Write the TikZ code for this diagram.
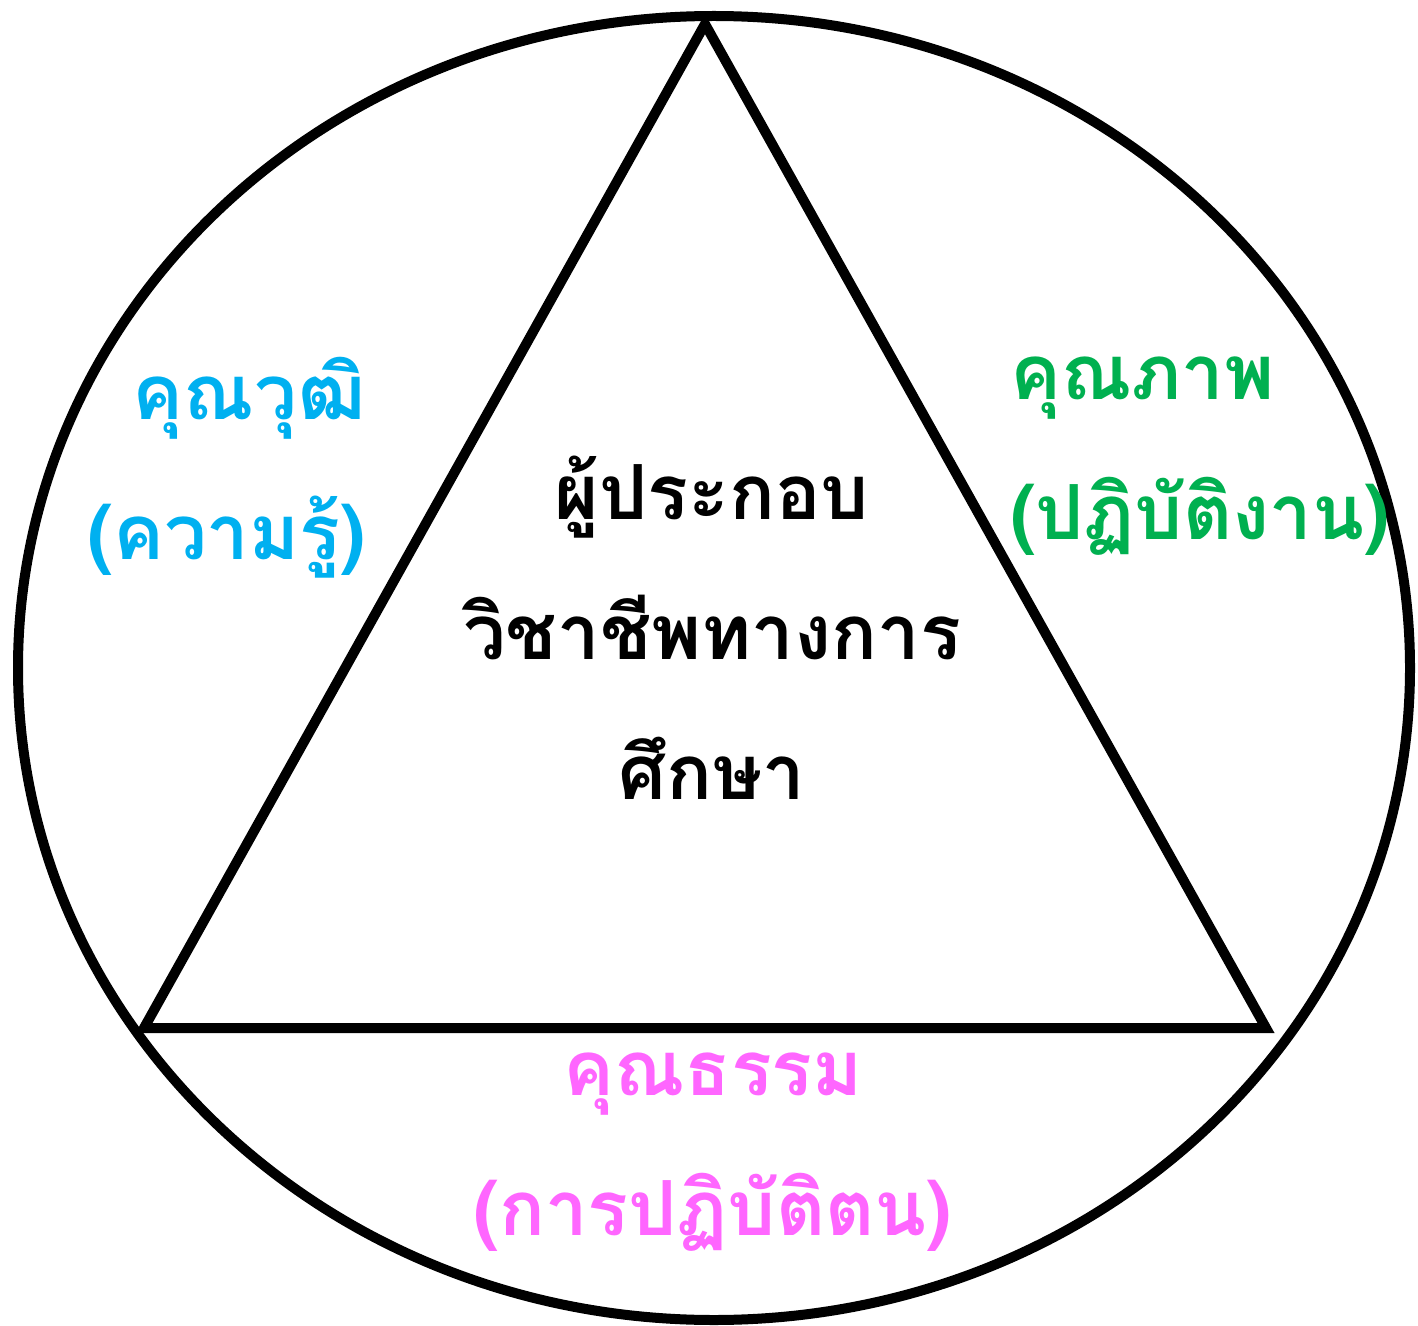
\documentclass[tikz,border=0pt]{standalone}
\usepackage{fontspec}
\newfontfamily\thaifont[Script=Thai]{Loma}
\usepackage{tikz}
\usetikzlibrary{positioning}

\begin{document}
\begin{tikzpicture}[
  x=0.5pt, y=-0.5pt,
  font=\thaifont\bfseries\fontsize{38}{70}\selectfont,
  outline/.style={draw=black, line width=5pt},
  label/.style={inner sep=0pt, align=center}
]
\definecolor{tcyan}{HTML}{00B0F0}
\definecolor{tgreen}{HTML}{00B050}
\definecolor{tpink}{HTML}{FF66FF}

\useasboundingbox (0,0) rectangle (1418,1326);

\draw[outline] (714,668) ellipse [x radius=696, y radius=652];

\coordinate (top) at (705,24);
\coordinate (left) at (144,1028);
\coordinate (right) at (1266,1028);
\draw[outline, line join=miter] (top) -- (left) -- (right) -- cycle;

\node[label, align=right, text=tcyan, anchor=east] (wut)
  at (366,468) {คุณวุฒิ\\(ความรู้)};
\node[label, align=left, text=tgreen, anchor=west] (phap)
  at (1010,456) {คุณภาพ\\(ปฏิบัติงาน)};
\node[label, text=tpink] (tham) at (713,1152) {คุณธรรม\\(การปฏิบัติตน)};

\node[label] (centre) at (712,628) {ผู้ประกอบ\\วิชาชีพทางการ\\ศึกษา};
\end{tikzpicture}
\end{document}
